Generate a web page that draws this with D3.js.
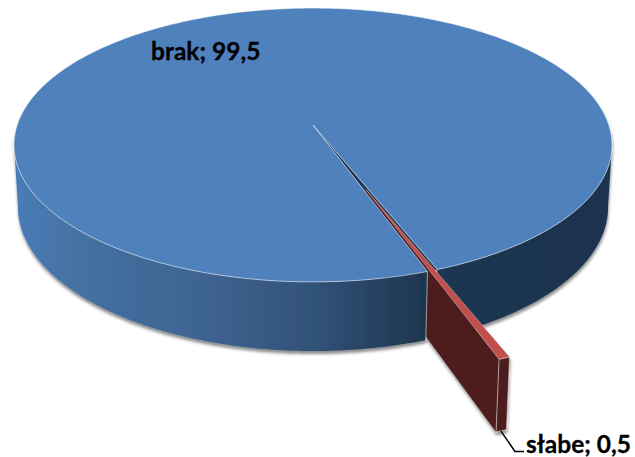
<!DOCTYPE html>
<html>
<head>
<meta charset="utf-8">
<script src="https://cdn.jsdelivr.net/npm/d3@7"></script>
<style>
  html, body { margin: 0; padding: 0; background: #fff; }
  svg { display: block; }
  text { font-family: Lato, "Open Sans", sans-serif; font-weight: 700; font-size: 24.5px; fill: #000; stroke: #000; stroke-width: 0.3px; }
</style>
</head>
<body>
<div id="main"></div>
<script>
// chart values
var categories = ['brak', 'słabe'];
var values = [99.5, 0.5];

var width = 635, height = 457;
var svg = d3.select('#main').append('svg').attr('width', width).attr('height', height);

// perspective of the disc: tip of the pie, plane scale and tilt
var cx = 313, cy = 125;
var planeA = 295.8, planeB = 134, tilt = 0.146;
// how far the lower rim sits from the upper one
var depthW = 0.013, depthY = 62;
var explode = 0.48;

function project(u, v, low) {
  var w = 1 - tilt * v + (low ? depthW : 0);
  return [cx + planeA * u / w, cy + (planeB * v + (low ? depthY : 0)) / w];
}
// point on disc at pie angle a, radius r, optionally pushed out along angle mid
function pt(a, r, low, mid, off) {
  var u = r * Math.sin(a), v = -r * Math.cos(a);
  if (off) { u += off * Math.sin(mid); v -= off * Math.cos(mid); }
  return project(u, v, low);
}
function arcPts(a0, a1, r, low, mid, off) {
  var n = Math.max(2, Math.ceil(Math.abs(a1 - a0) / 0.01));
  return d3.range(n + 1).map(function(i) {
    return pt(a0 + (a1 - a0) * i / n, r, low, mid, off);
  });
}

var line = d3.line();
function closed(points) { return line(points) + 'Z'; }

var rad = function(deg) { return deg * Math.PI / 180; };
var pie = d3.pie().sort(null).value(function(d) { return d; })
  .startAngle(rad(160.5)).endAngle(rad(160.5) + 2 * Math.PI);
var slices = pie(values);
var blue = slices[0], red = slices[1];
var redMid = (red.startAngle + red.endAngle) / 2;

var defs = svg.append('defs');
var grad = defs.append('linearGradient').attr('id', 'wallGrad')
  .attr('gradientUnits', 'userSpaceOnUse')
  .attr('x1', 14).attr('x2', 612).attr('y1', 0).attr('y2', 0);
[[0, '#4a7cb8'], [0.12, '#44709f'], [0.3, '#3f6593'], [0.5, '#325278'], [0.68, '#1f3751'], [1, '#1b3250']]
  .forEach(function(s) {
    grad.append('stop').attr('offset', s[0]).attr('stop-color', s[1]);
  });

var shadow = defs.append('filter').attr('id', 'shadow')
  .attr('x', '-5%').attr('y', '-5%').attr('width', '110%').attr('height', '115%');
shadow.append('feDropShadow').attr('dx', 0.5).attr('dy', 3).attr('stdDeviation', 1.8)
  .attr('flood-color', '#000').attr('flood-opacity', 0.45);

var chart = svg.append('g').attr('filter', 'url(#shadow)');
var rimStroke = '#fff';

// walls of the big slice, right part goes behind the small slice
function wall(a0, a1) {
  var top = arcPts(a0, a1, 1, false);
  var low = arcPts(a0, a1, 1, true);
  return closed(top.concat(low.reverse()));
}
// widest points of the rim, the walls stop there
var leftEnd = rad(262), rightEnd = rad(98);
// the small slice comes after a full turn of the big one
var turn = 2 * Math.PI;

chart.append('path').attr('d', wall(rightEnd, red.startAngle - turn))
  .attr('fill', 'url(#wallGrad)');

// opening in the big slice
chart.append('path')
  .attr('d', closed([pt(0, 0)].concat(arcPts(red.startAngle, red.endAngle, 1, false))))
  .attr('fill', '#1d3552');

// small slice: cut side and outer end
chart.append('path')
  .attr('d', closed([
    pt(red.endAngle, 1, false, redMid, explode),
    pt(red.endAngle, 0, false, redMid, explode),
    pt(red.endAngle, 0, true, redMid, explode),
    pt(red.endAngle, 1, true, redMid, explode)
  ]))
  .attr('fill', '#4e1f1c');
chart.append('path')
  .attr('d', closed(arcPts(red.startAngle, red.endAngle, 1, false, redMid, explode)
    .concat(arcPts(red.startAngle, red.endAngle, 1, true, redMid, explode).reverse())))
  .attr('fill', '#4e1f1c')
  .attr('stroke', '#e8dcdc').attr('stroke-width', 0.6);

chart.append('path').attr('d', wall(red.endAngle - turn, leftEnd))
  .attr('fill', 'url(#wallGrad)');
// cut edge of the wall next to the opening
chart.append('path')
  .attr('d', line([pt(red.endAngle, 1, false), pt(red.endAngle, 1, true)]))
  .attr('stroke', '#dfe6ee').attr('stroke-width', 0.6).attr('fill', 'none');

// top faces
var topBlue = [pt(0, 0)].concat(arcPts(blue.startAngle, blue.endAngle, 1, false));
chart.append('path')
  .attr('d', closed(topBlue))
  .attr('fill', '#4f81bd')
  .attr('stroke', rimStroke).attr('stroke-opacity', 0.75).attr('stroke-width', 0.7)
  .attr('stroke-linejoin', 'round');

var topRed = [pt(0, 0, false, redMid, explode)]
  .concat(arcPts(red.startAngle, red.endAngle, 1, false, redMid, explode));
chart.append('path')
  .attr('d', closed(topRed))
  .attr('fill', '#c0504d')
  .attr('stroke', rimStroke).attr('stroke-opacity', 0.6).attr('stroke-width', 0.5);

// labels
function labelText(i) {
  return categories[i] + '; ' + String(values[i]).replace('.', ',');
}
svg.append('text').attr('x', 151).attr('y', 60).text(labelText(0));

var tail = pt(redMid, 1, true, redMid, explode);
svg.append('path')
  .attr('d', line([[tail[0] - 0.5, tail[1]], [515, 451.5], [524, 451.5]]))
  .attr('fill', 'none').attr('stroke', '#000').attr('stroke-width', 1.5);
svg.append('text').attr('x', 526).attr('y', 453).text(labelText(1));
</script>
</body>
</html>
